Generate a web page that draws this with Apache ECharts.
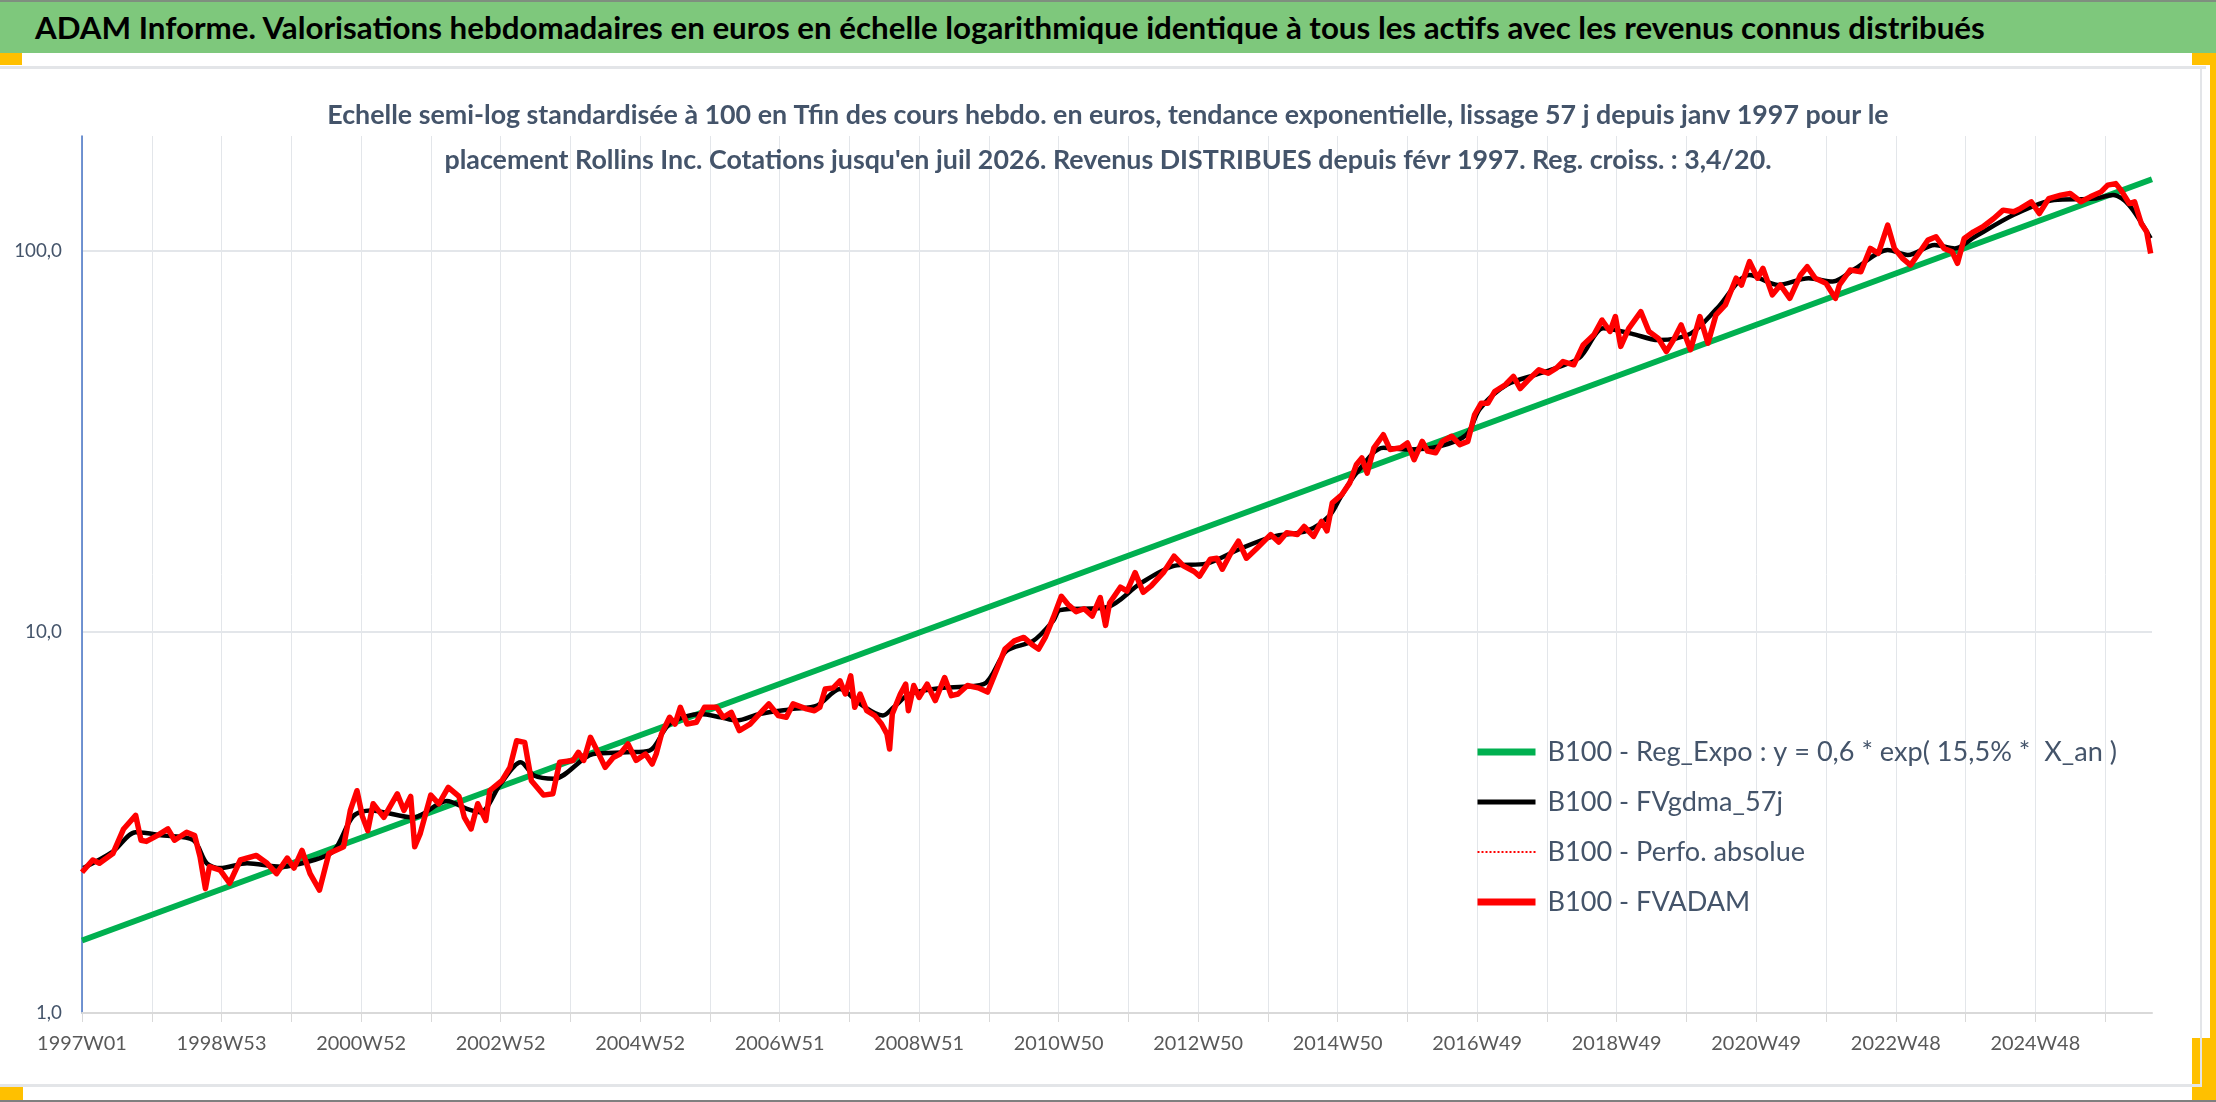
<!DOCTYPE html>
<html>
<head>
<meta charset="UTF-8">
<title>ADAM Informe - Rollins Inc.</title>
<script src="https://cdn.jsdelivr.net/npm/echarts@6/dist/echarts.min.js"></script>
<style type="text/css">
	html, body {
		margin: 0;
		padding: 0;
		width: 2216px;
		height: 1102px;
		overflow: hidden;
		background: #fff;
		font-family: Lato, 'Noto Sans', sans-serif;
	}
	.box { position: absolute; }
	#bar {
		left: 0; top: 0; width: 2216px; height: 53px;
		background: #7ec87c;
		border-top: 2px solid #7f8f7f;
		box-sizing: border-box;
	}
	#bar span {
		position: absolute;
		left: 35px; top: 0;
		line-height: 51px;
		font-size: 30px; font-weight: bold; color: #000;
		white-space: nowrap;
	}
	.yel { background: #ffc000; }
	.frame { background: #e3e5e8; }
	#chart { left: 0; top: 0; width: 2216px; height: 1102px; }
</style>
</head>
<body>
	<div class="box" id="bar"><span id="barText">ADAM Informe. Valorisations hebdomadaires en euros en échelle logarithmique identique à tous les actifs avec les revenus connus distribués</span></div>
	<div class="box yel" style="left:0;top:53px;width:22px;height:12px"></div>
	<div class="box yel" style="left:2192px;top:53px;width:24px;height:12px"></div>
	<div class="box yel" style="left:2210px;top:53px;width:6px;height:1049px"></div>
	<div class="box yel" style="left:2192px;top:1038px;width:24px;height:62px"></div>
	<div class="box yel" style="left:0;top:1087px;width:23px;height:15px"></div>
	<div class="box frame" style="left:0;top:66px;width:2206px;height:3px"></div>
	<div class="box frame" style="left:0;top:1084px;width:2200px;height:3px"></div>
	<div class="box frame" style="left:2200px;top:66px;width:2px;height:1021px"></div>
	<div class="box" style="left:0;top:1100px;width:2216px;height:2px;background:#7f7f7f"></div>
	<div class="box" id="chart"></div>

	<script type="text/javascript">
		// x = week index from 1997W01, one axis label every 104 weeks
		var xTickLabels = ['1997W01', '1998W53', '2000W52', '2002W52', '2004W52', '2006W51', '2008W51', '2010W50',
			'2012W50', '2014W50', '2016W49', '2018W49', '2020W49', '2022W48', '2024W48'];
		var lastWeek = 1543;

		// exponential trend, end points
		var trendWeeks = [0, 1543];
		var trendValues = [1.55, 154];

		// B100 - FVADAM
		var redWeeks = [0, 8, 13, 23, 31, 40, 44, 48, 56, 64, 69, 78, 84, 88, 92, 95, 103, 110, 118, 130,
			138, 145, 153, 158, 164, 170, 177, 184, 195, 200, 205, 209, 213, 217, 225, 235, 240, 245, 248, 252,
			260, 266, 273, 281, 285, 290, 295, 301, 304, 313, 319, 324, 330, 335, 344, 351, 356, 366, 370, 374,
			379, 384, 390, 396, 401, 407, 413, 420, 425, 428, 432, 438, 442, 446, 451, 458, 464, 473, 478, 484,
			490, 498, 505, 512, 519, 525, 530, 540, 546, 550, 554, 560, 565, 569, 573, 576, 580, 585, 591, 596,
			600, 602, 604, 610, 614, 616, 620, 624, 630, 636, 643, 648, 653, 660, 668, 675, 680, 688, 695, 702,
			708, 713, 718, 724, 730, 735, 741, 747, 753, 759, 763, 766, 774, 779, 785, 791, 797, 806, 814, 821,
			829, 833, 841, 846, 850, 856, 862, 868, 876, 886, 892, 898, 906, 911, 918, 924, 928, 932, 939, 945,
			950, 954, 958, 963, 970, 975, 983, 988, 993, 999, 1003, 1009, 1014, 1021, 1027, 1033, 1038, 1043, 1048, 1053,
			1061, 1067, 1072, 1078, 1086, 1093, 1099, 1104, 1112, 1119, 1127, 1133, 1139, 1143, 1147, 1153, 1162, 1168, 1175, 1181,
			1187, 1192, 1199, 1206, 1212, 1218, 1225, 1233, 1237, 1243, 1249, 1253, 1260, 1266, 1273, 1281, 1286, 1292, 1300, 1307,
			1310, 1318, 1326, 1333, 1339, 1346, 1351, 1357, 1363, 1370, 1376, 1382, 1388, 1394, 1398, 1403, 1410, 1417, 1425, 1432,
			1440, 1445, 1453, 1459, 1466, 1475, 1482, 1490, 1497, 1505, 1510, 1516, 1520, 1526, 1530, 1535, 1539, 1542];
		var redValues = [2.34, 2.52, 2.47, 2.62, 3.04, 3.30, 2.84, 2.82, 2.92, 3.04, 2.84, 2.98, 2.92, 2.57, 2.12, 2.42, 2.37, 2.19, 2.52, 2.59,
			2.47, 2.32, 2.55, 2.40, 2.67, 2.32, 2.10, 2.62, 2.73, 3.40, 3.83, 3.28, 3.01, 3.54, 3.26, 3.76, 3.40, 3.70, 2.73, 2.95,
			3.73, 3.54, 3.91, 3.70, 3.26, 3.04, 3.54, 3.20, 3.83, 4.07, 4.41, 5.18, 5.13, 4.07, 3.73, 3.76, 4.55, 4.60, 4.83, 4.60,
			5.29, 4.88, 4.41, 4.68, 4.78, 5.08, 4.60, 4.78, 4.50, 4.78, 5.40, 5.97, 5.73, 6.34, 5.73, 5.79, 6.34, 6.34, 5.97, 6.15,
			5.51, 5.73, 6.09, 6.47, 6.03, 5.97, 6.47, 6.28, 6.21, 6.34, 7.08, 7.13, 7.44, 6.87, 7.67, 6.34, 6.87, 6.21, 6.03, 5.73,
			5.40, 4.93, 6.09, 6.87, 7.29, 6.21, 7.23, 6.73, 7.29, 6.60, 7.59, 6.80, 6.87, 7.23, 7.13, 6.95, 7.67, 9.01, 9.47, 9.67,
			9.27, 9.01, 9.67, 10.9, 12.4, 11.8, 11.3, 11.5, 11.0, 12.3, 10.4, 11.9, 13.1, 12.8, 14.3, 12.7, 13.2, 14.3, 15.8, 14.9,
			14.4, 14.0, 15.5, 15.6, 14.6, 16.0, 17.3, 15.6, 16.6, 18.0, 17.2, 18.2, 18.0, 18.9, 17.8, 19.5, 18.4, 21.8, 22.9, 24.6,
			27.5, 28.6, 26.1, 30.4, 32.9, 30.1, 30.4, 31.3, 28.3, 31.6, 29.8, 29.5, 31.6, 32.6, 31.0, 31.6, 37.1, 39.8, 39.8, 42.7,
			44.5, 46.8, 43.5, 45.8, 48.7, 47.7, 49.2, 51.2, 50.2, 56.6, 60.2, 65.8, 61.4, 67.2, 56.1, 62.6, 69.2, 61.4, 58.9, 54.4,
			58.9, 63.9, 55.0, 67.2, 57.2, 67.9, 72.1, 84.7, 81.3, 93.6, 84.7, 89.9, 76.6, 81.3, 75.0, 86.4, 90.8, 84.7, 82.1, 75.0,
			81.3, 89.0, 88.1, 101.4, 98.4, 116.7, 101.4, 95.5, 91.7, 99.4, 106.6, 108.8, 101.4, 99.4, 92.7, 107.7, 112.1, 115.6, 121.5, 127.8,
			126.5, 129.1, 134.4, 125.2, 137.0, 139.9, 141.3, 134.4, 138.5, 142.7, 148.6, 150.0, 144.0, 133.0, 134.4, 117.9, 112.1, 98.4];

		// B100 - FVgdma_57j, smoothed line
		var blackWeeks = [1, 23, 40, 61, 83, 93, 103, 123, 148, 173, 188, 202, 215, 247, 272, 287, 297, 312, 327, 337,
			352, 381, 406, 423, 438, 461, 476, 488, 505, 530, 548, 565, 580, 597, 605, 617, 642, 672, 689, 709,
			724, 729, 764, 789, 814, 838, 863, 888, 913, 930, 938, 950, 970, 988, 1012, 1032, 1042, 1062, 1087, 1116,
			1134, 1155, 1175, 1199, 1219, 1243, 1264, 1287, 1305, 1322, 1346, 1361, 1381, 1396, 1411, 1440, 1470, 1500, 1514, 1526, 1542];
		var blackValues = [2.40, 2.65, 2.98, 2.92, 2.84, 2.47, 2.40, 2.47, 2.42, 2.52, 2.67, 3.28, 3.40, 3.26, 3.60, 3.43, 3.36, 3.99, 4.55, 4.20,
			4.12, 4.78, 4.83, 4.88, 5.73, 6.09, 5.97, 5.85, 6.09, 6.28, 6.41, 7.08, 6.47, 6.03, 6.34, 6.87, 7.13, 7.29, 8.90, 9.47,
			10.7, 11.4, 11.6, 13.4, 14.9, 15.1, 16.5, 17.8, 18.4, 20.2, 22.5, 26.1, 30.4, 30.1, 30.7, 32.9, 38.5, 44.5, 47.7, 52.3,
			62.6, 60.6, 58.3, 60.6, 70.7, 86.4, 81.3, 84.7, 83.0, 89.9, 100.4, 97.5, 103.6, 101.4, 108.8, 124.3, 135.9, 137.0, 140.0, 131.7, 107.7];

		var seriesNames = ['B100 - Reg_Expo : y = 0,6 * exp( 15,5% *  X_an )', 'B100 - FVgdma_57j',
			'B100 - Perfo. absolue', 'B100 - FVADAM'];
		var subTitle = 'Echelle semi-log standardisée à 100 en Tfin des cours hebdo. en euros, tendance exponentielle, lissage 57 j depuis janv 1997 pour le\n'
			+ 'placement Rollins Inc. Cotations jusqu\'en juil 2026. Revenus DISTRIBUES depuis févr 1997. Reg. croiss. : 3,4/20.';

		function pairs(xs, ys) {
			var out = [];
			for (var i = 0; i < xs.length; i++) {
				out.push([xs[i], ys[i]]);
			}
			return out;
		}

		var font = "Lato, 'Noto Sans', sans-serif";
		var textGrey = '#44546a';

		// the original uses a narrow font: pick the size that gives the same text width
		var ctx = document.createElement('canvas').getContext('2d');
		function fitSize(text, width, weight) {
			ctx.font = (weight || 'normal') + ' 100px ' + font;
			return Math.round(100 * width / ctx.measureText(text).width * 10) / 10;
		}
		var barSize = fitSize(document.getElementById('barText').textContent, 1954, 'bold');
		document.getElementById('barText').style.fontSize = barSize + 'px';
		var subSize = fitSize(subTitle.split('\n')[0], 1563, 'bold');
		var legendSize = fitSize(seriesNames[0], 570);
		var xLabelSize = fitSize('1997W01', 90);
		var yLabelSize = fitSize('100,0', 48);

		var option = {
			animation: false,
			textStyle: { fontFamily: font },
			title: {
				text: subTitle,
				left: 'center',
				top: 88,
				textStyle: {
					fontFamily: font,
					fontSize: subSize,
					fontWeight: 'bold',
					color: textGrey,
					lineHeight: 45
				}
			},
			legend: {
				orient: 'vertical',
				left: 1469,
				top: 732,
				itemWidth: 58,
				itemHeight: 14,
				itemGap: 20,
				itemStyle: { opacity: 0 },
				textStyle: {
					fontFamily: font,
					fontSize: legendSize,
					color: textGrey,
					lineHeight: 30,
					padding: [0, 0, 0, 7]
				},
				data: [
					{ name: seriesNames[0], lineStyle: { width: 7, color: '#00b050' } },
					{ name: seriesNames[1], lineStyle: { width: 5, color: '#000' } },
					{ name: seriesNames[2], lineStyle: { width: 2, color: '#ff0000', type: 'dotted' } },
					{ name: seriesNames[3], lineStyle: { width: 7, color: '#ff0000' } }
				]
			},
			grid: {
				left: 82,
				right: 64,
				top: 136,
				bottom: 89,
				containLabel: false
			},
			xAxis: {
				type: 'value',
				min: 0,
				max: lastWeek,
				interval: 52,
				axisLine: { lineStyle: { color: '#d9d9d9', width: 2 } },
				axisTick: { show: true, length: 9, lineStyle: { color: '#d9d9d9' } },
				splitLine: { show: true, showMaxLine: false, lineStyle: { color: '#e3e6ea', width: 1 } },
				axisLabel: {
					margin: 21,
					fontSize: xLabelSize,
					color: '#595959',
					fontFamily: font,
					showMaxLabel: false,
					formatter: function(v) {
						if (v % 104 === 0 && xTickLabels[v / 104]) {
							return xTickLabels[v / 104];
						}
						return '';
					}
				}
			},
			yAxis: {
				type: 'log',
				logBase: 10,
				min: 1,
				max: 200,
				axisLine: { show: true, lineStyle: { color: '#4472c4', width: 1.5 } },
				axisTick: { show: false },
				splitLine: { show: true, showMaxLine: false, lineStyle: { color: '#e3e6ea', width: 2 } },
				axisLabel: {
					margin: 20,
					fontSize: yLabelSize,
					color: '#44546a',
					fontFamily: font,
					formatter: function(v) {
						if (v === 1 || v === 10 || v === 100) {
							return v.toFixed(1).replace('.', ',');
						}
						return '';
					}
				}
			},
			series: [{
				name: seriesNames[0],
				type: 'line',
				symbol: 'none',
				data: pairs(trendWeeks, trendValues),
				lineStyle: { color: '#00b050', width: 6 },
				itemStyle: { color: '#00b050' }
			}, {
				name: seriesNames[1],
				type: 'line',
				symbol: 'none',
				smooth: 0.3,
				data: pairs(blackWeeks, blackValues),
				lineStyle: { color: '#000', width: 4.5 },
				itemStyle: { color: '#000' }
			}, {
				name: seriesNames[2],
				type: 'line',
				symbol: 'none',
				data: pairs(redWeeks, redValues),
				lineStyle: { color: '#ff0000', width: 2, type: 'dotted' },
				itemStyle: { color: '#ff0000' }
			}, {
				name: seriesNames[3],
				type: 'line',
				symbol: 'none',
				data: pairs(redWeeks, redValues),
				lineStyle: { color: '#ff0000', width: 5.5, join: 'round' },
				itemStyle: { color: '#ff0000' }
			}]
		};

		var myChart = echarts.init(document.getElementById('chart'));
		myChart.setOption(option);
	</script>
</body>
</html>
